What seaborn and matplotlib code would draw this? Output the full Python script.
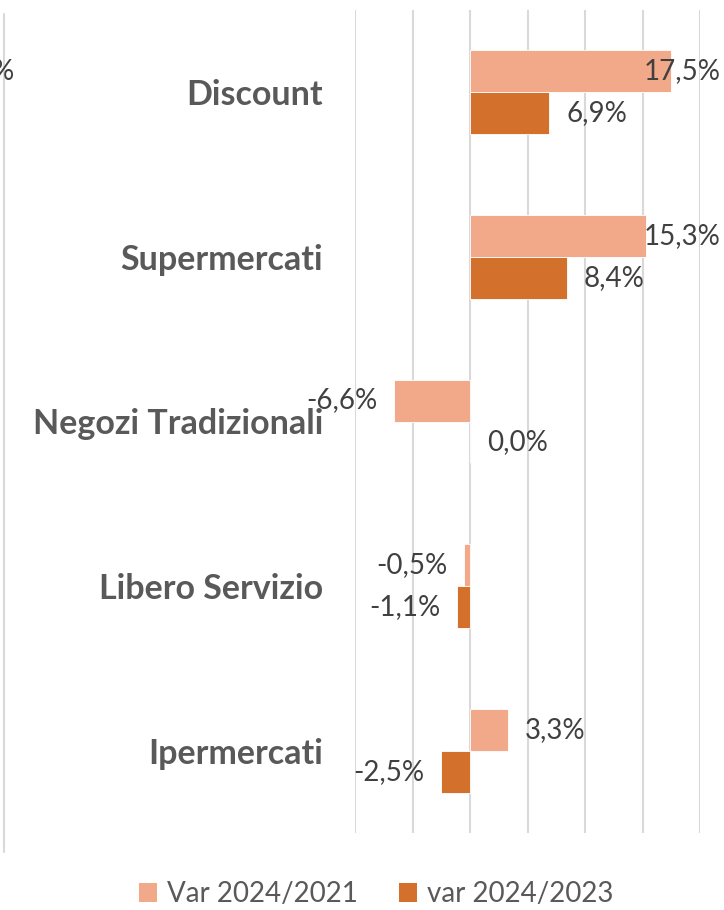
import matplotlib
matplotlib.use('Agg')
import matplotlib.pyplot as plt
import seaborn as sns
import pandas as pd
from matplotlib.patches import Patch
from matplotlib.lines import Line2D

categories = ['Discount', 'Supermercati', 'Negozi Tradizionali', 'Libero Servizio', 'Ipermercati']
var_2021 = [17.5, 15.3, -6.6, -0.5, 3.3]
var_2023 = [6.9, 8.4, 0.0, -1.1, -2.5]
series = ['Var 2024/2021', 'var 2024/2023']
colors = ['#F1A98A', '#D3702C']

df = pd.DataFrame({
    'canale': categories * 2,
    'serie': [series[0]] * len(categories) + [series[1]] * len(categories),
    'valore': var_2021 + var_2023,
})

sns.set_style('white')
plt.rcParams['font.family'] = ['Lato', 'DejaVu Sans']

fig = plt.figure(figsize=(7.24, 9.10), dpi=100)
ax = fig.add_axes([355 / 724, 77 / 910, 345 / 724, 823 / 910])

sns.barplot(data=df, y='canale', x='valore', hue='serie', palette=colors,
            width=0.51, orient='h', saturation=1, ax=ax, legend=False,
            edgecolor='white', linewidth=0.6)

ax.set_xlim(-10, 20)
ax.set_xticks(range(-10, 21, 5))
ax.tick_params(axis='x', length=0, labelbottom=False)
ax.tick_params(axis='y', length=0, pad=23)
ax.grid(axis='x', color='#D9D9D9', linewidth=1.5)
ax.set_axisbelow(True)
ax.set_xlabel('')
ax.set_ylabel('')
for s in ax.spines.values():
    s.set_visible(False)
for lbl in ax.get_yticklabels():
    lbl.set_fontsize(24.5)
    lbl.set_fontweight('bold')
    lbl.set_color('#595959')

# data labels (Excel style, pulled back inside the plot when too long)
xmax = ax.get_xlim()[1]
for cont in ax.containers:
    for bar in cont:
        v = bar.get_width()
        yc = bar.get_y() + bar.get_height() / 2
        txt = f'{v:.1f}%'.replace('.', ',')
        if v > 12:
            ax.annotate(txt, (xmax, yc), xytext=(15, 0), textcoords='offset points',
                        ha='right', va='center', fontsize=20, color='#404040',
                        annotation_clip=False)
        elif v >= 0:
            ax.annotate(txt, (v, yc), xytext=(12, 0), textcoords='offset points',
                        ha='left', va='center', fontsize=20, color='#404040')
        else:
            ax.annotate(txt, (v, yc), xytext=(-12, 0), textcoords='offset points',
                        ha='right', va='center', fontsize=20, color='#404040')

handles = [Patch(facecolor=c, edgecolor='none') for c in colors]
fig.legend(handles, series, loc='center', bbox_to_anchor=(376 / 724, 1 - 894 / 910),
           ncol=2, frameon=False, fontsize=20, handlelength=0.65, handleheight=0.65,
           handletextpad=0.35, columnspacing=1.5, labelcolor='#595959')

# edge of the neighbouring chart that shows at the left border
fig.add_artist(Line2D([4 / 724, 4 / 724], [1 - 14 / 910, 1 - 852 / 910],
                      color='#D9D9D9', linewidth=1.5, transform=fig.transFigure))
fig.text(-0.012, 1 - 72 / 910, '%', fontsize=20, color='#404040', va='center', ha='left')

fig.savefig('out.png', dpi=100)
